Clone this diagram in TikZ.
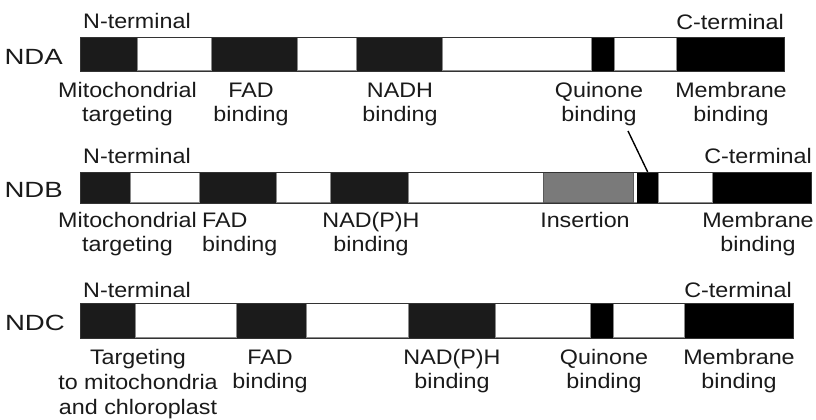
\documentclass[tikz,border=0pt]{standalone}
\usepackage{fontspec}
\setmainfont{Liberation Sans}[FakeStretch=1.11]
\usepackage{graphicx}
\definecolor{txt}{HTML}{1A1A1A}
\definecolor{blkA}{HTML}{1B1B1B}
\definecolor{blkB}{HTML}{000000}
\definecolor{ins}{HTML}{7A7A7A}
\definecolor{edge}{HTML}{8A8A8A}
\begin{document}
\begin{tikzpicture}[x=1pt,y=-1pt,
  lbl/.style={inner sep=0pt, font=\fontsize{21}{24}\selectfont, text=txt, align=center, anchor=base},
  prot/.style={inner sep=0pt, font=\fontsize{22}{24}\selectfont, text=txt, anchor=base east},
  term/.style={inner sep=0pt, font=\fontsize{21}{24}\selectfont, text=txt},
  barbox/.style={draw=black!80, line width=0.6pt, inner sep=0pt, anchor=north west, rectangle},
  whiteseg/.style={fill=white, draw=edge, line width=0.5pt},
  blackseg/.style={fill=blkB, draw=none, inner sep=0pt, anchor=north west, rectangle},
  lead/.style={draw=black, line width=1.4pt}]
\useasboundingbox (0,0) rectangle (816,420);
\fill[white] (0,0) rectangle (816,420);

% ---------------- NDA ----------------
\foreach \a/\b/\c in {80/137/blkA,211/297/blkA,356/442/blkA,591/614/blkB,676/784/blkB}
  \fill[\c] (\a,37) rectangle (\b,71);
\foreach \a/\b in {137/211,297/356,442/591,614/676}
  \draw[whiteseg] (\a,37.5) rectangle (\b,70.5);
\node[barbox, minimum width=704pt, minimum height=34pt] (ndaBar) at (80,37) {};
\node[prot] (ndaName) at (63,64) {\scalebox{1.13}[1]{NDA}};
\node[term, anchor=base west] (ndaN) at (83,29) {N-terminal};
\node[term, anchor=base east] (ndaC) at (784,30) {C-terminal};
\node[lbl] (ndaL1) at (127.5,121) {Mitochondrial\\targeting};
\node[lbl] (ndaL2) at (251,121) {FAD\\binding};
\node[lbl] (ndaL3) at (400,121) {NADH\\binding};
\node[lbl] (ndaL4) at (599,121) {Quinone\\binding};
\node[lbl] (ndaL5) at (731,121) {Membrane\\binding};

% ---------------- NDB ----------------
\foreach \a/\b/\c in {80/130/blkA,199/276/blkA,330/408/blkA,712/811/blkB}
  \fill[\c] (\a,172) rectangle (\b,203);
\foreach \a/\b in {130/199,276/330,408/543,633/637,658/712}
  \draw[whiteseg] (\a,172.5) rectangle (\b,202.5);
\draw[fill=ins, draw=black!65, line width=0.6pt] (543,172.5) rectangle (633,202.5);
\node[blackseg, minimum width=21pt, minimum height=31pt] (ndbQ) at (637,172) {};
\node[barbox, minimum width=731pt, minimum height=31pt] (ndbBar) at (80,172) {};
\node[prot] (ndbName) at (63,197) {\scalebox{1.13}[1]{NDB}};
\node[term, anchor=base west] (ndbN) at (83,163) {N-terminal};
\node[term, anchor=base east] (ndbC) at (812,163) {C-terminal};
\node[lbl] (ndbL1) at (127.5,251) {Mitochondrial\\targeting};
\node[lbl, align=left, anchor=base west] (ndbL2) at (202,251) {FAD\\binding};
\node[lbl] (ndbL3) at (371,251) {NAD(P)H\\binding};
\node[lbl] (ndbL4) at (585,227) {Insertion};
\node[lbl] (ndbL5) at (758,251) {Membrane\\binding};
\coordinate (qtop) at (628,131);
\draw[lead] (qtop) -- (ndbQ.north);

% ---------------- NDC ----------------
\foreach \a/\b/\c in {80/135/blkA,236/306/blkA,408/495/blkA,590/613/blkB,684/793/blkB}
  \fill[\c] (\a,303) rectangle (\b,338);
\foreach \a/\b in {135/236,306/408,495/590,613/684}
  \draw[whiteseg] (\a,303.5) rectangle (\b,337.5);
\node[barbox, minimum width=713pt, minimum height=35pt] (ndcBar) at (80,303) {};
\node[prot] (ndcName) at (65,330) {\scalebox{1.13}[1]{NDC}};
\node[term, anchor=base west] (ndcN) at (83,297) {N-terminal};
\node[term, anchor=base east] (ndcC) at (792,297) {C-terminal};
\node[lbl, font=\fontsize{21}{25}\selectfont] (ndcL1) at (138,414) {Targeting\\to mitochondria\\and chloroplast};
\node[lbl] (ndcL2) at (270,388) {FAD\\binding};
\node[lbl] (ndcL3) at (452,388) {NAD(P)H\\binding};
\node[lbl] (ndcL4) at (604,388) {Quinone\\binding};
\node[lbl] (ndcL5) at (739,388) {Membrane\\binding};
\end{tikzpicture}
\end{document}
